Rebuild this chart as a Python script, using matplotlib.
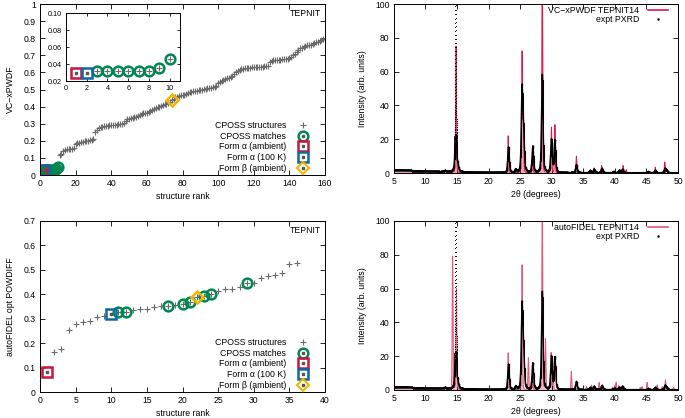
import numpy as np
import matplotlib.pyplot as plt
from matplotlib.lines import Line2D

plt.rcParams['font.family'] = ['Liberation Sans', 'DejaVu Sans']
plt.rcParams['font.size'] = 6.3

# ---- ranking data (top: VC-xPWDF, 160 structures) ----
xpwdf = [0.030, 0.030, 0.032, 0.032, 0.032, 0.032, 0.032, 0.032, 0.035, 0.046,
         0.115, 0.125, 0.140, 0.145, 0.150, 0.150, 0.152, 0.155, 0.160, 0.180,
         0.190, 0.190, 0.192, 0.195, 0.196, 0.198, 0.200, 0.202, 0.205, 0.210,
         0.250, 0.265, 0.275, 0.280, 0.283, 0.285, 0.287, 0.288, 0.290, 0.290,
         0.292, 0.293, 0.295, 0.296, 0.298, 0.300, 0.305, 0.315, 0.325, 0.330,
         0.333, 0.335, 0.338, 0.340, 0.345, 0.350, 0.355, 0.360, 0.362, 0.365,
         0.370, 0.375, 0.380, 0.385, 0.390, 0.395, 0.400, 0.405, 0.410, 0.413,
         0.416, 0.420, 0.425, 0.440, 0.445, 0.455, 0.458, 0.460, 0.465, 0.468,
         0.470, 0.475, 0.480, 0.483, 0.487, 0.490, 0.492, 0.494, 0.496, 0.498,
         0.500, 0.502, 0.504, 0.506, 0.508, 0.510, 0.512, 0.515, 0.520, 0.540,
         0.545, 0.550, 0.555, 0.560, 0.565, 0.570, 0.575, 0.580, 0.590, 0.600,
         0.610, 0.615, 0.620, 0.622, 0.625, 0.626, 0.627, 0.628, 0.629, 0.630,
         0.630, 0.631, 0.632, 0.633, 0.634, 0.635, 0.636, 0.637, 0.660, 0.665,
         0.670, 0.672, 0.673, 0.674, 0.675, 0.676, 0.677, 0.678, 0.680, 0.683,
         0.690, 0.700, 0.710, 0.720, 0.730, 0.740, 0.745, 0.750, 0.755, 0.758,
         0.760, 0.762, 0.765, 0.770, 0.775, 0.780, 0.785, 0.790, 0.795, 0.800]
top_matches = [3, 4, 5, 6, 7, 8, 9, 10]
top_alpha_amb = [1]
top_alpha_100k = [2]
top_beta = [74]

# ---- ranking data (bottom: autoFIDEL opt POWDIFF, 36 structures) ----
powdiff = [0.080, 0.163, 0.175, 0.255, 0.278, 0.285, 0.290, 0.307, 0.312, 0.318,
           0.328, 0.328, 0.335, 0.338, 0.340, 0.348, 0.350, 0.352, 0.355, 0.360,
           0.370, 0.390, 0.395, 0.400, 0.415, 0.420, 0.423, 0.430, 0.447, 0.448,
           0.468, 0.473, 0.478, 0.487, 0.523, 0.530]
bot_matches = [11, 12, 18, 20, 21, 23, 24, 29]
bot_alpha_amb = [1]
bot_alpha_100k = [10]
bot_beta = [22]

# ---- PXRD peaks (2theta, intensity, fwhm) ----
expt_pos = [13.1, 14.8, 15.1, 23.15, 24.3, 25.3, 25.55, 27.0, 28.5, 29.95, 30.5,
            33.9, 36.1, 36.7, 37.95, 39.8, 40.7, 41.2, 45.3, 46.4, 47.95, 48.2]
expt_hgt = [0.8, 140, 3, 15, 1.8, 49, 20, 15.5, 58, 19.5, 19,
            4.8, 1.3, 2.0, 2.5, 0.7, 1.4, 2.0, 0.7, 1.4, 2.5, 1.2]
expt_fwhm = [0.28, 0.15, 0.28, 0.28, 0.28, 0.28, 0.28, 0.28, 0.28, 0.28, 0.28,
             0.28, 0.28, 0.28, 0.28, 0.28, 0.28, 0.28, 0.28, 0.28, 0.28, 0.28]
bg_pos = [5, 7, 9, 10, 13, 16, 20, 25, 50]
bg_lvl = [1.9, 1.7, 1.2, 1.0, 0.8, 0.6, 0.3, 0.2, 0.2]

xpwdf_pos = [14.85, 23.1, 24.3, 25.3, 25.5, 27.0, 28.5, 29.95, 30.5, 33.9, 36.2,
             36.7, 37.9, 39.8, 40.8, 41.3, 41.8, 45.3, 46.4, 47.9, 48.2]
xpwdf_hgt = [75, 22, 1.2, 71, 40, 10, 130, 27, 28.5, 10, 1.5,
             3, 4.5, 1, 2, 4.5, 2, 1, 3.5, 6.5, 2.5]

fidel_pos = [14.3, 14.9, 23.1, 24.2, 25.3, 26.3, 27.0, 28.5, 29.0, 29.9, 30.2,
             33.1, 35.5, 36.3, 37.5, 39.6, 40.0, 40.2, 40.6, 44.0, 44.3, 45.1,
             46.7, 47.5, 48.0, 49.3]
fidel_hgt = [79, 60, 22, 2, 74, 19, 5, 130, 30, 22, 11,
             11, 2, 3, 4.5, 1.5, 2.5, 4.5, 2.5, 1.5, 2, 4.5,
             3, 2, 6, 1.5]

GREEN = '#00874f'
RED = '#c8163f'
BLUE = '#0f67a3'
YELLOW = '#f4b400'
GREY = '#6a6a6a'


def profile(tt, pos, hgt, fwhm, eta=0.4):
    out = np.zeros_like(tt)
    fwhm = np.broadcast_to(fwhm, (len(pos),))
    for p, h, w in zip(pos, hgt, fwhm):
        d = (tt - p) / (w / 2)
        out += h * (eta / (1 + d ** 2) + (1 - eta) * np.exp(-np.log(2) * d ** 2))
    return out


def style(ax, fs=6.2):
    ax.tick_params(direction='in', top=True, right=True, length=3.5, width=0.6,
                   labelsize=fs, pad=3)
    for s in ax.spines.values():
        s.set_linewidth(0.7)


def rank_panel(ax, vals, matches, a_amb, a_100, beta):
    ranks = np.arange(1, len(vals) + 1)
    vals = np.asarray(vals)
    alpha = set(a_amb) | set(a_100)
    keep = np.array([r not in alpha for r in ranks])
    ax.plot(ranks[keep], vals[keep], ls='none', marker='+', ms=4, mew=0.8,
            color=GREY)
    m = np.array(matches, dtype=int) - 1
    ax.plot(ranks[m], vals[m], ls='none', marker='o', ms=7, mew=1.8,
            mfc='none', color=GREEN)
    for idx, mk, col in ((a_amb, 's', RED), (a_100, 's', BLUE), (beta, 'D', YELLOW)):
        i = np.array(idx, dtype=int) - 1
        if len(i) == 0:
            continue
        ax.plot(ranks[i], vals[i], ls='none', marker=mk,
                ms=6.5 if mk == 's' else 6, mew=1.8, mfc='none', color=col)
        if mk == 's':
            ax.plot(ranks[i], vals[i], ls='none', marker='s', ms=1.6, color='#555555')


def rank_legend(ax):
    dot = dict(ls='none', marker='s', ms=1.5, color='#555555')
    h = [Line2D([], [], ls='none', marker='+', ms=4, mew=0.8, color=GREY),
         (Line2D([], [], ls='none', marker='o', ms=7, mew=1.8, mfc='none', color=GREEN),
          Line2D([], [], **dot)),
         (Line2D([], [], ls='none', marker='s', ms=6.5, mew=1.8, mfc='none', color=RED),
          Line2D([], [], **dot)),
         (Line2D([], [], ls='none', marker='s', ms=6.5, mew=1.8, mfc='none', color=BLUE),
          Line2D([], [], **dot)),
         (Line2D([], [], ls='none', marker='D', ms=6, mew=1.5, mfc='none', color=YELLOW),
          Line2D([], [], **dot))]
    labels = ['CPOSS structures', 'CPOSS matches', 'Form \u03b1 (ambient)',
              'Form \u03b1 (100 K)', 'Form \u03b2 (ambient)']
    ax.legend(h, labels, loc='lower right', bbox_to_anchor=(0.955, 0.012),
              frameon=False, markerfirst=False, fontsize=6.3, labelspacing=0.2,
              handletextpad=1.0, borderpad=0, borderaxespad=0, handlelength=2.0)


fig = plt.figure(figsize=(6.85, 4.18), dpi=100)

# ---- top left ----
ax1 = fig.add_axes([0.0584, 0.5813, 0.4161, 0.4091])
rank_panel(ax1, xpwdf, top_matches, top_alpha_amb, top_alpha_100k, top_beta)
ax1.set_xlim(0, 160)
ax1.set_ylim(0, 1)
ax1.set_xticks(np.arange(0, 161, 20))
ax1.set_yticks(np.arange(0, 1.01, 0.1))
ax1.set_yticklabels(['%g' % round(v, 1) for v in np.arange(0, 1.01, 0.1)])
ax1.set_xlabel('structure rank', labelpad=3)
ax1.set_ylabel('VC\u2212xPWDF', labelpad=6)
ax1.text(0.986, 0.947, 'TEPNIT', transform=ax1.transAxes, ha='right', va='center')
style(ax1)
rank_legend(ax1)

# inset
axi = fig.add_axes([0.0964, 0.806, 0.1664, 0.162])
rank_panel(axi, xpwdf[:10], top_matches, top_alpha_amb, top_alpha_100k, [])
axi.set_xlim(0, 11)
axi.set_ylim(0.02, 0.10)
axi.set_xticks(np.arange(0, 11, 2))
axi.set_yticks(np.arange(0.02, 0.101, 0.02))
axi.set_yticklabels(['%.2f' % v for v in np.arange(0.02, 0.101, 0.02)])
style(axi, fs=5.2)
axi.tick_params(length=2.5)

# ---- bottom left ----
ax3 = fig.add_axes([0.0584, 0.0622, 0.4161, 0.4091])
rank_panel(ax3, powdiff, bot_matches, bot_alpha_amb, bot_alpha_100k, bot_beta)
ax3.set_xlim(0, 40)
ax3.set_ylim(0, 0.7)
ax3.set_xticks(np.arange(0, 41, 5))
ax3.set_yticks(np.arange(0, 0.71, 0.1))
ax3.set_yticklabels(['%g' % round(v, 1) for v in np.arange(0, 0.71, 0.1)])
ax3.set_xlabel('structure rank', labelpad=3)
ax3.set_ylabel('autoFIDEL opt POWDIFF', labelpad=6)
ax3.text(0.986, 0.947, 'TEPNIT', transform=ax3.transAxes, ha='right', va='center')
style(ax3)
rank_legend(ax3)

# ---- PXRD panels ----
tt = np.arange(5, 50, 0.002)
expt = profile(tt, expt_pos, expt_hgt, expt_fwhm) + np.interp(tt, bg_pos, bg_lvl)
# solid trace where the pattern is gentle, bare points on the steep flanks
expt_line = np.where(np.abs(np.gradient(expt, tt)) > 420, np.nan, expt)


def pxrd_panel(rect, pos, hgt, col, fill, name):
    ax = fig.add_axes(rect)
    calc = profile(tt, pos, hgt, 0.15, eta=0.2)
    ax.fill_between(tt, 0, calc, color=fill, lw=0)
    ax.plot(tt, calc, color=col, lw=0.7)
    ax.plot(tt, expt_line, color='black', lw=1.0)
    ax.plot(tt, expt, ls='none', marker='.', ms=1.6, mew=0, color='black')
    ax.set_xlim(5, 50)
    ax.set_ylim(0, 100)
    ax.set_xticks(np.arange(5, 51, 5))
    ax.set_yticks(np.arange(0, 101, 20))
    ax.set_xlabel('2\u03b8 (degrees)', labelpad=3)
    ax.set_ylabel('Intensity (arb. units)', labelpad=6)
    style(ax)
    h = [Line2D([], [], color=col, lw=1.2),
         Line2D([], [], ls='none', marker='.', ms=1.5, color='black')]
    ax.legend(h, [name, 'expt PXRD'], loc='upper right', bbox_to_anchor=(0.965, 0.99),
              frameon=False, markerfirst=False, fontsize=6.3, labelspacing=0.05,
              handletextpad=1.0, borderpad=0, borderaxespad=0, handlelength=2.3)
    return ax


pxrd_panel([0.575, 0.586, 0.4148, 0.4044], xpwdf_pos, xpwdf_hgt, '#d81b4a', '#f2a3b6',
           'VC\u2212xPWDF TEPNIT14')
pxrd_panel([0.575, 0.067, 0.4148, 0.4043], fidel_pos, fidel_hgt, '#e0587a', '#f5b4c4',
           'autoFIDEL TEPNIT14')

fig.savefig('out.png', dpi=100)
